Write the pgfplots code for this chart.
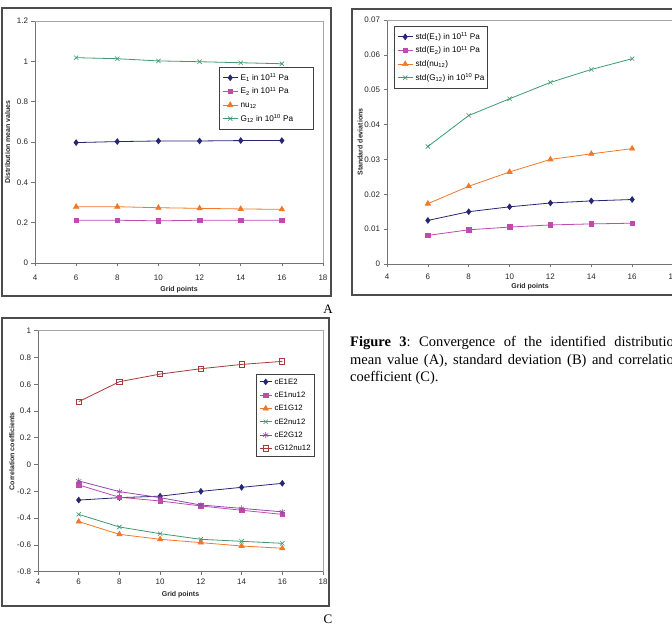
\documentclass[border=0pt]{standalone}
\usepackage{pgfplots}
\pgfplotsset{compat=1.18}
\usepackage{fontspec}
\setmainfont{Liberation Serif}
\newfontfamily\arial{Liberation Sans}

\definecolor{cNavy}{HTML}{262673}
\definecolor{cPink}{HTML}{C04AAE}
\definecolor{cOrange}{HTML}{F07828}
\definecolor{cGreen}{HTML}{3E9A6E}
\definecolor{cPurple}{HTML}{8E4AA6}
\definecolor{cBrown}{HTML}{A83A3A}

% legend entries padded to a fixed width, as in the spreadsheet legends
\newcommand{\lgA}[1]{\makebox[68pt][l]{#1}}
\newcommand{\lgB}[1]{\makebox[67pt][l]{#1}}
\newcommand{\lgC}[1]{\makebox[35pt][l]{#1}}

\pgfplotsset{
  excel/.style={
    scale only axis,
    anchor=south west,
    font=\arial\fontsize{8}{9}\selectfont,
    xmin=4, xmax=18, xtick={4,6,...,18},
    axis x line*=bottom, axis y line*=left,
    axis line style={-, black!55, line width=0.9pt},
    tick align=outside, major tick length=3.5pt,
    tick style={black!55, line width=0.7pt},
    ticklabel style={font=\arial\fontsize{8}{9}\selectfont, text=black!85},
    /pgf/number format/assume math mode=true,
    legend style={font=\arial\fontsize{8.2}{9.5}\selectfont, draw=black!75, line width=0.6pt,
      cells={anchor=west, text height=6.5pt, text depth=2pt},
      anchor=north west, inner xsep=3pt, inner ysep=4.5pt,
      row sep=1.6pt, column sep=0.5pt},
    every axis plot/.append style={line width=0.8pt, mark options={solid, line width=0.6pt}},
    clip=false,
    after end axis/.code={
      \draw[black!35, line width=0.7pt] (rel axis cs:0,1) -- (rel axis cs:1,1) -- (rel axis cs:1,0);
    },
  },
  limg/.style={legend image code/.code={\draw[mark repeat=2,mark phase=2]
      plot coordinates {(0pt,0pt) (0.5*#1,0pt) (#1,0pt)};}},
  xlab/.style={xlabel style={at={(axis description cs:0.5,0)}, anchor=center, yshift=#1,
      font=\arial\bfseries\fontsize{7}{8}\selectfont, text=black!85}},
  ylab/.style={ylabel style={at={(axis description cs:#1,0.5)}, anchor=center,
      font=\arial\bfseries\fontsize{7}{8}\selectfont, text=black!85}},
  sE1/.style={color=cNavy, mark=diamond*, mark size=2.9pt},
  sE2/.style={color=cPink, mark=square*, mark size=2.3pt},
  sNu/.style={color=cOrange, mark=triangle*, mark size=3.1pt},
  sG/.style={color=cGreen, mark=x, mark size=3pt},
  sStar/.style={color=cPurple, mark=asterisk, mark size=3pt},
  sOpen/.style={color=cBrown, mark=square, mark size=2.6pt, mark options={fill=white}},
}

\begin{document}
\frenchspacing
\begin{tikzpicture}[x=1pt, y=1pt]
\useasboundingbox (0,0) rectangle (672,628);

% chart frames
\draw[black!70, line width=1.3pt] (2,332) rectangle (331,620);
\draw[black!70, line width=1.3pt] (352,333) rectangle (700,619);
\draw[black!70, line width=1.3pt] (2,22) rectangle (329,310);

% (A) distribution mean values
\begin{axis}[excel, at={(35pt,365pt)}, width=288pt, height=242pt,
  ymin=0, ymax=1.2, ytick={0,0.2,...,1.2},
  xticklabel style={yshift=-4.5pt},
  xlab=-27pt, ylab=-0.095, limg=15pt,
  xlabel={Grid points}, ylabel={Distribution mean values},
  legend style={at={(0.639,0.81)}}]
\addplot[sE1] coordinates {(6,0.597)(8,0.602)(10,0.605)(12,0.605)(14,0.607)(16,0.607)};
\addlegendentry{\lgA{E\textsubscript{1} in 10\textsuperscript{11} Pa}}
\addplot[sE2] coordinates {(6,0.212)(8,0.212)(10,0.209)(12,0.212)(14,0.212)(16,0.212)};
\addlegendentry{\lgA{E\textsubscript{2} in 10\textsuperscript{11} Pa}}
\addplot[sNu] coordinates {(6,0.279)(8,0.279)(10,0.274)(12,0.271)(14,0.268)(16,0.266)};
\addlegendentry{\lgA{nu\textsubscript{12}}}
\addplot[sG] coordinates {(6,1.018)(8,1.013)(10,1.002)(12,0.998)(14,0.993)(16,0.988)};
\addlegendentry{\lgA{G\textsubscript{12} in 10\textsuperscript{10} Pa}}
\end{axis}

% (B) standard deviations
\begin{axis}[excel, at={(387pt,364pt)}, width=286pt, height=244pt,
  ymin=0, ymax=0.07, ytick={0,0.01,...,0.07}, scaled y ticks=false,
  yticklabel style={/pgf/number format/fixed, /pgf/number format/precision=2},
  xticklabel style={yshift=-2.5pt},
  xlab=-23pt, ylab=-0.094, limg=15pt,
  xlabel={Grid points}, ylabel={Standard deviations},
  legend style={at={(0.0245,0.975)}}]
\addplot[sE1] coordinates {(6,0.0125)(8,0.0150)(10,0.0164)(12,0.0175)(14,0.0181)(16,0.0185)};
\addlegendentry{\lgB{std(E\textsubscript{1}) in 10\textsuperscript{11} Pa}}
\addplot[sE2] coordinates {(6,0.0082)(8,0.0098)(10,0.0106)(12,0.0112)(14,0.0115)(16,0.0117)};
\addlegendentry{\lgB{std(E\textsubscript{2}) in 10\textsuperscript{11} Pa}}
\addplot[sNu] coordinates {(6,0.0173)(8,0.0223)(10,0.0264)(12,0.0300)(14,0.0316)(16,0.0331)};
\addlegendentry{\lgB{std(nu\textsubscript{12})}}
\addplot[sG] coordinates {(6,0.0337)(8,0.0426)(10,0.0474)(12,0.0521)(14,0.0558)(16,0.0589)};
\addlegendentry{\lgB{std(G\textsubscript{12}) in 10\textsuperscript{10} Pa}}
\end{axis}

% (C) correlation coefficients
\begin{axis}[excel, at={(38pt,56.3pt)}, width=285pt, height=241pt,
  ymin=-0.8, ymax=1, ytick={-0.8,-0.6,...,1.01},
  xlab=-23pt, ylab=-0.092, limg=12pt,
  xlabel={Grid points}, ylabel={Correlation coefficients},
  legend style={at={(0.765,0.82)}, font=\arial\fontsize{7.8}{9}\selectfont,
    inner ysep=1.5pt, row sep=1.3pt}]
\addplot[sE1] coordinates {(6,-0.265)(8,-0.247)(10,-0.236)(12,-0.200)(14,-0.170)(16,-0.140)};
\addlegendentry{\lgC{cE1E2}}
\addplot[sE2] coordinates {(6,-0.152)(8,-0.244)(10,-0.272)(12,-0.309)(14,-0.341)(16,-0.372)};
\addlegendentry{\lgC{cE1nu12}}
\addplot[sNu] coordinates {(6,-0.426)(8,-0.521)(10,-0.558)(12,-0.583)(14,-0.608)(16,-0.625)};
\addlegendentry{\lgC{cE1G12}}
\addplot[sG] coordinates {(6,-0.372)(8,-0.466)(10,-0.516)(12,-0.558)(14,-0.573)(16,-0.588)};
\addlegendentry{\lgC{cE2nu12}}
\addplot[sStar] coordinates {(6,-0.122)(8,-0.202)(10,-0.247)(12,-0.302)(14,-0.327)(16,-0.353)};
\addlegendentry{\lgC{cE2G12}}
\addplot[sOpen] coordinates {(6,0.470)(8,0.619)(10,0.676)(12,0.716)(14,0.748)(16,0.771)};
\addlegendentry{\lgC{cG12nu12}}
\end{axis}

% panel letters
\node[font=\fontsize{13}{15}\selectfont] at (328,319) {A};
\node[font=\fontsize{13}{15}\selectfont] at (328,9) {C};

% caption
\begin{scope}[every node/.style={anchor=base west, inner sep=0pt, font=\fontsize{14.5}{17}\selectfont}]
\node at (350,281) {\makebox[331pt][s]{\textbf{Figure 3}: Convergence of the identified distribution}};
\node at (350,263.5) {\makebox[331pt][s]{mean value (A), standard deviation (B) and correlation}};
\node at (350,246) {coefficient (C).};
\end{scope}
\end{tikzpicture}
\end{document}
